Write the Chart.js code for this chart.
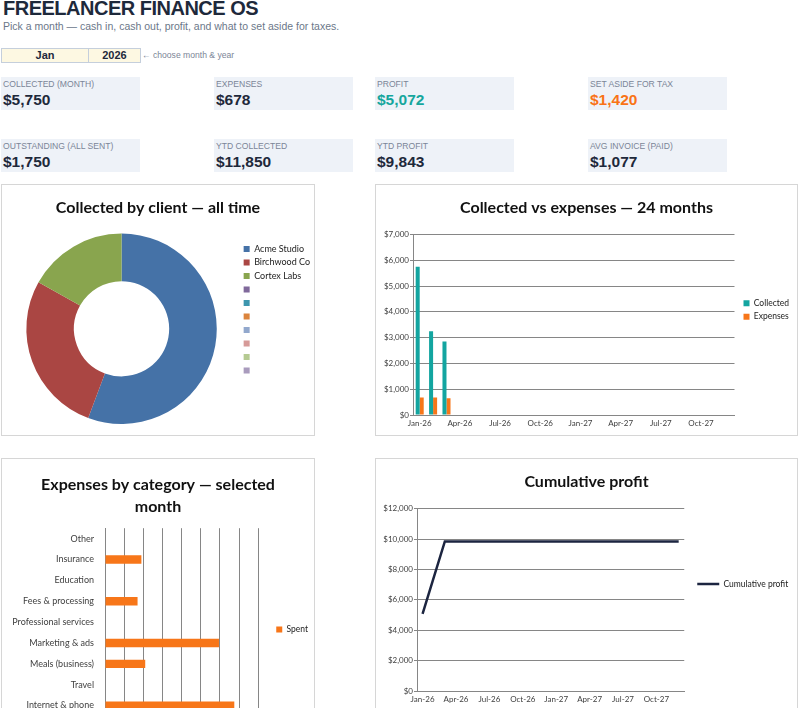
<!DOCTYPE html>
<html>
<head>
<meta charset="utf-8">
<script src="https://cdn.jsdelivr.net/npm/chart.js@4.4.1/dist/chart.umd.min.js"></script>
<style>
  body { margin: 0; width: 798px; height: 708px; overflow: hidden; background: #fff; position: relative;
         font-family: "Liberation Sans", Arial, sans-serif; color: #1e293b; }
  .abs { position: absolute; }
  h1 { position: absolute; left: 3px; top: -2px; margin: 0; font-family: "Liberation Sans Narrow", "Arial Narrow", "Liberation Sans", sans-serif;
       font-size: 20px; line-height: 21px; font-weight: bold; color: #1e293b; letter-spacing: -0.5px; white-space: nowrap; }
  .sub { left: 3px; top: 19.5px; font-size: 10.5px; color: #6b7789; }
  .pick { left: 1px; top: 48px; width: 138px; height: 13px; border: 1px solid #c5cfdc; background: #fdf8e2; font-size: 11px; font-weight: bold; }
  .pick span { position: absolute; top: 0; line-height: 13px; text-align: center; }
  .hint { left: 142px; top: 50px; font-size: 8.6px; color: #7b8597; }
  .kpi { width: 139px; height: 33px; background: #eef2f8; }
  .kpi .lab { position: absolute; left: 2px; top: 2px; font-size: 8.6px; color: #7b8597; white-space: nowrap; }
  .kpi .val { position: absolute; left: 2px; top: 14px; font-size: 15.5px; font-weight: bold; color: #1e293b; white-space: nowrap; }
  .card { border: 1px solid #d6d6d6; background: #fff; }
  .card canvas { display: block; }
</style>
</head>
<body>
<h1>FREELANCER FINANCE OS</h1>
<div class="abs sub">Pick a month — cash in, cash out, profit, and what to set aside for taxes.</div>
<div class="abs pick">
  <span style="left:0;width:86px;border-right:1px solid #c5cfdc;">Jan</span>
  <span style="left:87px;width:51px;">2026</span>
</div>
<div class="abs hint">← choose month &amp; year</div>

<div class="abs kpi" style="left:1px;top:77px"><div class="lab">COLLECTED (MONTH)</div><div class="val">$5,750</div></div>
<div class="abs kpi" style="left:214px;top:77px"><div class="lab">EXPENSES</div><div class="val">$678</div></div>
<div class="abs kpi" style="left:375px;top:77px"><div class="lab">PROFIT</div><div class="val" style="color:#15a69d">$5,072</div></div>
<div class="abs kpi" style="left:588px;top:77px"><div class="lab">SET ASIDE FOR TAX</div><div class="val" style="color:#f97316">$1,420</div></div>
<div class="abs kpi" style="left:1px;top:139px"><div class="lab">OUTSTANDING (ALL SENT)</div><div class="val">$1,750</div></div>
<div class="abs kpi" style="left:214px;top:139px"><div class="lab">YTD COLLECTED</div><div class="val">$11,850</div></div>
<div class="abs kpi" style="left:375px;top:139px"><div class="lab">YTD PROFIT</div><div class="val">$9,843</div></div>
<div class="abs kpi" style="left:588px;top:139px"><div class="lab">AVG INVOICE (PAID)</div><div class="val">$1,077</div></div>

<div class="abs card" style="left:1px;top:184px"><canvas id="clientChart" width="312" height="250"></canvas></div>
<div class="abs card" style="left:375px;top:184px"><canvas id="monthChart" width="421" height="250"></canvas></div>
<div class="abs card" style="left:1px;top:458px"><canvas id="categoryChart" width="312" height="349"></canvas></div>
<div class="abs card" style="left:375px;top:458px"><canvas id="profitChart" width="421" height="252"></canvas></div>

<script>
// data
const clients = ['Acme Studio', 'Birchwood Co', 'Cortex Labs', '', '', '', '', '', '', ''];
const clientCollected = [6600, 3250, 2000, 0, 0, 0, 0, 0, 0, 0];
const clientColors = ['#4572a7', '#aa4643', '#89a54e', '#80699b', '#3d96ae', '#db843d', '#92a8cd', '#d69a98', '#b5ca92', '#a99bbd'];

const months = ['Jan-26', 'Feb-26', 'Mar-26', 'Apr-26', 'May-26', 'Jun-26', 'Jul-26', 'Aug-26', 'Sep-26', 'Oct-26', 'Nov-26', 'Dec-26',
                'Jan-27', 'Feb-27', 'Mar-27', 'Apr-27', 'May-27', 'Jun-27', 'Jul-27', 'Aug-27', 'Sep-27', 'Oct-27', 'Nov-27', 'Dec-27'];
const collected = [5750, 3250, 2850, 0, 0, 0, 0, 0, 0, 0, 0, 0, 0, 0, 0, 0, 0, 0, 0, 0, 0, 0, 0, 0];
const expenses = [678, 680, 649, 0, 0, 0, 0, 0, 0, 0, 0, 0, 0, 0, 0, 0, 0, 0, 0, 0, 0, 0, 0, 0];
const cumulativeProfit = [5072, 7460, 9843, 9843, 9843, 9843, 9843, 9843, 9843, 9843, 9843, 9843,
                          9843, 9843, 9843, 9843, 9843, 9843, 9843, 9843, 9843, 9843, 9843, 9843];

const categories = ['Other', 'Insurance', 'Education', 'Fees & processing', 'Professional services', 'Marketing & ads',
                    'Meals (business)', 'Travel', 'Internet & phone', 'Office & equipment', 'Software & subscriptions', 'Rent & workspace'];
const spent = [0, 38, 0, 34, 0, 119, 42, 0, 135, 150, 160, 0];

const gridGray = '#868686';
const tickGray = '#404040';

Chart.defaults.font.family = 'Lato, "Open Sans", sans-serif';
Chart.defaults.color = tickGray;
Chart.defaults.animation = false;

// after layout: centre the title over the whole canvas and shift the legend box
// to where the sheet puts it
const placeBoxes = {
  id: 'placeBoxes',
  afterLayout(chart, args, opts) {
    if (chart.titleBlock) {
      chart.titleBlock.left = 0;
      chart.titleBlock.right = chart.width;
    }
    const lg = chart.legend;
    if (!lg) return;
    const dx = opts.x || 0, dy = opts.y || 0;
    lg.left += dx; lg.right += dx; lg.top += dy; lg.bottom += dy;
  }
};

const money = v => '$' + Number(v).toLocaleString('en-US');
const every3 = function (v, i) { return i % 3 === 0 ? this.getLabelForValue(v) : ''; };
const titleOpts = (text, top, bottom) => ({
  display: true, text, color: '#111', padding: { top, bottom },
  font: { size: 16, weight: 'bold', lineHeight: 1.35 }
});

// Collected by client
new Chart(document.getElementById('clientChart'), {
  type: 'doughnut',
  data: {
    labels: clients,
    datasets: [{ data: clientCollected, backgroundColor: clientColors, borderWidth: 0 }]
  },
  options: {
    responsive: false,
    cutout: '50%',
    layout: { padding: { left: 8, right: 0, bottom: 11, top: 0 } },
    plugins: {
      title: titleOpts('Collected by client — all time', 12.5, 14.5),
      legend: {
        position: 'right', align: 'start',
        labels: { boxWidth: 6, boxHeight: 6, padding: 4.5, font: { size: 9 }, color: '#222' }
      },
      placeBoxes: { x: 6, y: 55 },
      tooltip: { enabled: false }
    }
  },
  plugins: [placeBoxes]
});

// Collected vs expenses
new Chart(document.getElementById('monthChart'), {
  type: 'bar',
  data: {
    labels: months,
    datasets: [
      { label: 'Collected', data: collected, backgroundColor: '#13a5a0' },
      { label: 'Expenses', data: expenses, backgroundColor: '#f77619' }
    ]
  },
  options: {
    responsive: false,
    categoryPercentage: 0.6, barPercentage: 1,
    layout: { padding: { left: 0, right: 2, top: 0, bottom: 0 } },
    scales: {
      x: {
        grid: { display: false, tickLength: 0 }, border: { color: gridGray },
        ticks: { autoSkip: false, maxRotation: 0, padding: 4, font: { size: 8 }, callback: every3 },
        afterFit: s => { s.height = 20; }
      },
      y: {
        min: 0, max: 7000,
        grid: { color: gridGray, tickLength: 3 }, border: { color: gridGray },
        ticks: { stepSize: 1000, padding: 1, font: { size: 8 }, callback: money },
        afterFit: s => { s.width = 37; }
      }
    },
    plugins: {
      title: titleOpts('Collected vs expenses — 24 months', 12.5, 15.5),
      legend: {
        position: 'right',
        labels: { boxWidth: 6, boxHeight: 6, padding: 5, font: { size: 8.5 }, color: '#222' }
      },
      placeBoxes: { x: 4, y: 0 },
      tooltip: { enabled: false }
    }
  },
  plugins: [placeBoxes]
});

// Expenses by category
new Chart(document.getElementById('categoryChart'), {
  type: 'bar',
  data: {
    labels: categories,
    datasets: [{ label: 'Spent', data: spent, backgroundColor: '#f77619' }]
  },
  options: {
    responsive: false,
    indexAxis: 'y',
    categoryPercentage: 1, barPercentage: 0.4,
    layout: { padding: { left: 0, right: 9, top: 0, bottom: 0 } },
    scales: {
      x: {
        min: 0, max: 160,
        grid: { color: gridGray, tickLength: 3 }, border: { color: gridGray },
        ticks: { stepSize: 20, font: { size: 8 }, callback: money }
      },
      y: {
        grid: { display: false }, border: { color: gridGray },
        ticks: { autoSkip: false, padding: 3, font: { size: 9 } },
        afterFit: s => { s.width = 103; }
      }
    },
    plugins: {
      title: titleOpts(['Expenses by category — selected', 'month'], 15, 11),
      legend: {
        position: 'right',
        labels: { boxWidth: 6, boxHeight: 6, padding: 5, font: { size: 8.5 }, color: '#222' }
      },
      placeBoxes: { x: 13, y: -4 },
      tooltip: { enabled: false }
    }
  },
  plugins: [placeBoxes]
});

// Cumulative profit
new Chart(document.getElementById('profitChart'), {
  type: 'line',
  data: {
    labels: months,
    datasets: [{
      label: 'Cumulative profit', data: cumulativeProfit,
      borderColor: '#1c2540', backgroundColor: '#1c2540', borderWidth: 2.5,
      pointRadius: 0, tension: 0, fill: false
    }]
  },
  options: {
    responsive: false,
    layout: { padding: { left: 0, right: 10, top: 0, bottom: 0 } },
    scales: {
      x: {
        offset: true,
        grid: { display: false, tickLength: 0 }, border: { color: gridGray },
        ticks: { autoSkip: false, maxRotation: 0, padding: 4, font: { size: 8 }, callback: every3 },
        afterFit: s => { s.height = 20; }
      },
      y: {
        min: 0, max: 12000,
        grid: { color: gridGray, tickLength: 3 }, border: { color: gridGray },
        ticks: { stepSize: 2000, padding: 1, font: { size: 8 }, callback: money },
        afterFit: s => { s.width = 41; }
      }
    },
    plugins: {
      title: titleOpts('Cumulative profit', 12.5, 15.5),
      legend: {
        position: 'right',
        labels: { usePointStyle: true, pointStyle: 'line', pointStyleWidth: 22, padding: 5, font: { size: 8.5 }, color: '#222' }
      },
      placeBoxes: { x: 8, y: -1 },
      tooltip: { enabled: false }
    }
  },
  plugins: [placeBoxes]
});
</script>
</body>
</html>
